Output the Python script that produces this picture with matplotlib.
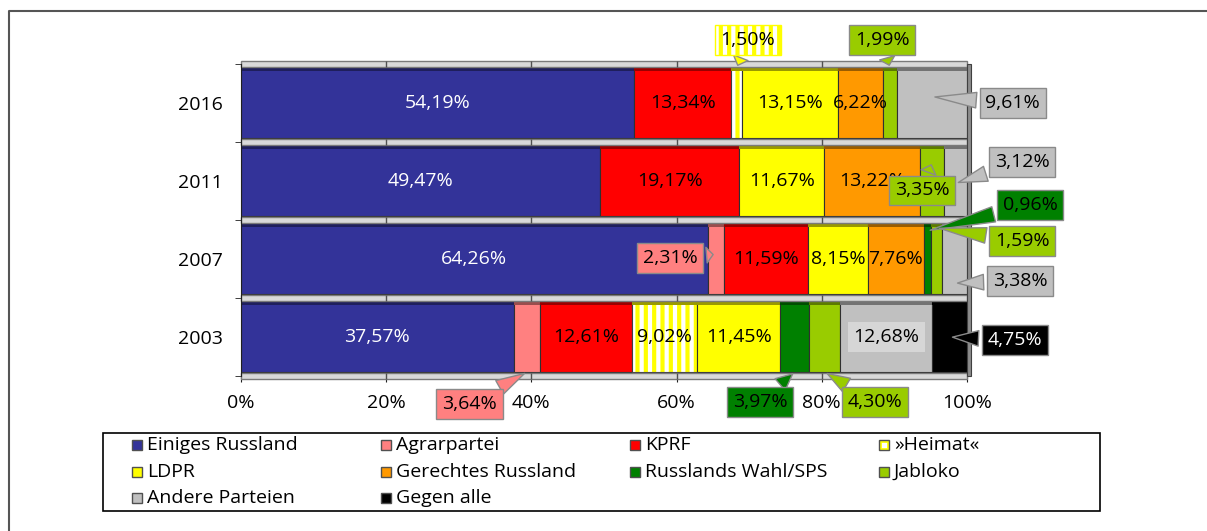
import numpy as np
import matplotlib
matplotlib.use('Agg')
import matplotlib.pyplot as plt
from matplotlib.patches import Rectangle
from matplotlib.lines import Line2D
from matplotlib.colors import to_rgb

plt.rcParams['font.family'] = ['Open Sans', 'DejaVu Sans']
plt.rcParams['hatch.linewidth'] = 3.0

W, H = 1207, 531
FS = 14

years = ['2003', '2007', '2011', '2016']
parties = ['Einiges Russland', 'Agrarpartei', 'KPRF', '»Heimat«', 'LDPR',
           'Gerechtes Russland', 'Russlands Wahl/SPS', 'Jabloko',
           'Andere Parteien', 'Gegen alle']
colors = ['#333399', '#ff8080', '#ff0000', '#ffff00', '#ffff00',
          '#ff9900', '#008000', '#99cc00', '#c0c0c0', '#000000']

# shares per year (2003, 2007, 2011, 2016)
einiges = [37.57, 64.26, 49.47, 54.19]
agrar = [3.64, 2.31, 0, 0]
kprf = [12.61, 11.59, 19.17, 13.34]
heimat = [9.02, 0, 0, 1.50]
ldpr = [11.45, 8.15, 11.67, 13.15]
gerechtes = [0, 7.76, 13.22, 6.22]
sps = [3.97, 0.96, 0, 0]
jabloko = [4.30, 1.59, 3.35, 1.99]
andere = [12.68, 3.38, 3.12, 9.61]
gegen = [4.75, 0, 0, 0]
series = [einiges, agrar, kprf, heimat, ldpr, gerechtes, sps, jabloko, andere, gegen]

# callouts: (party, year index) -> (text x, text y, where the pointer hits)
callouts = {
    (3, 3): (69.8, 3.81, 'top'),
    (7, 3): (88.3, 3.81, 'top'),
    (8, 3): (106.3, 3.0, 0.08),
    (8, 2): (107.6, 2.24, -0.03),
    (7, 2): (93.8, 1.88, 0.24),
    (6, 1): (108.7, 1.69, 0.36),
    (7, 1): (107.6, 1.23, 0.40),
    (8, 1): (107.3, 0.72, -0.31),
    (1, 1): (59.1, 1.01, 0.06),
    (1, 0): (31.5, -0.86, 'bottom'),
    (6, 0): (71.5, -0.83, 'bottom'),
    (7, 0): (87.3, -0.83, 'bottom'),
    (9, 0): (106.6, -0.04, 0.0),
}


def fx(px):
    return px / W


def fy(py):
    return 1 - py / H


def darker(c, f=0.6):
    r, g, b = to_rgb(c)
    return (r * f, g * f, b * f)


fig = plt.figure(figsize=(W / 100, H / 100), dpi=100)
ax = fig.add_axes([fx(241), fy(376), (967 - 241) / W, (376 - 64) / H])
ax.set_xlim(0, 100)
ax.set_ylim(-0.5, 3.5)

y = np.arange(len(years))
bh = 0.9
left = np.zeros(len(years))
for i, (name, vals, col) in enumerate(zip(parties, series, colors)):
    vals = np.array(vals, dtype=float)
    m = vals > 0
    if name == '»Heimat«':
        ax.barh(y[m], vals[m], left=left[m], height=bh, color='white',
                edgecolor=col, hatch='||', lw=0, zorder=2)
        ax.barh(y[m], vals[m], left=left[m], height=bh, fill=False,
                edgecolor='#404040', lw=0.8, zorder=2)
    else:
        ax.barh(y[m], vals[m], left=left[m], height=bh, color=col,
                edgecolor='#303030', lw=0.8, zorder=2)
    # darker top face for the 3d look
    ax.barh(y[m] + bh / 2 - 0.02, vals[m], left=left[m], height=0.04,
            color=darker(col), lw=0, zorder=2)

    for j in range(len(years)):
        v = vals[j]
        if v <= 0:
            continue
        cx = left[j] + v / 2
        txt = f'{v:.2f}%'.replace('.', ',')
        if (i, j) in callouts:
            tx, ty, where = callouts[(i, j)]
            if where == 'top':
                ty0 = y[j] + bh / 2
            elif where == 'bottom':
                ty0 = y[j] - bh / 2
            else:
                ty0 = y[j] + where
            tcol = 'white' if col == '#000000' else 'black'
            if name == '»Heimat«':
                box = dict(boxstyle='square,pad=0.3', fc='white', ec=col, hatch='||', lw=1)
            else:
                box = dict(boxstyle='square,pad=0.3', fc=col, ec='#8a8a8a', lw=1)
            ax.annotate(txt, xy=(cx, ty0), xytext=(tx, ty), ha='center', va='center',
                        fontsize=FS, color=tcol, bbox=box, annotation_clip=False,
                        arrowprops=dict(arrowstyle='wedge,tail_width=0.8,shrink_factor=0.5',
                                        fc=col, ec='#8a8a8a', lw=1),
                        zorder=6)
        else:
            tcol = 'white' if i == 0 else 'black'
            kw = {}
            if name == 'Andere Parteien':
                kw['bbox'] = dict(boxstyle='square,pad=0.3', fc='#d6d6d6', ec='none')
            ax.text(cx, y[j], txt, ha='center', va='center', fontsize=FS,
                    color=tcol, zorder=5, **kw)
    left += vals

# gray floor strips at category borders
for b in np.arange(-0.5, len(years), 1.0):
    ax.add_patch(Rectangle((0, b - 0.035), 100, 0.07, fc='#d9d9d9', ec='#7a7a7a',
                           lw=1, zorder=3, clip_on=False))
    ax.vlines(np.arange(20, 100, 20), b - 0.035, b + 0.035, color='#505050',
              lw=1, zorder=4, clip_on=False)
# right side wall
ax.add_patch(Rectangle((100, -0.5), 0.6, 4.0, fc='#8c8c8c', ec='#404040', lw=0.8,
                       zorder=3, clip_on=False))

for s in ['top', 'right', 'bottom']:
    ax.spines[s].set_visible(False)
ax.spines['left'].set_color('#202020')
ax.spines['left'].set_zorder(4)

ax.set_yticks(y)
ax.set_yticklabels(years, fontsize=FS)
ax.set_yticks(np.arange(-0.5, len(years), 1.0), minor=True)
ax.tick_params(axis='y', which='major', length=0, pad=13)
ax.tick_params(axis='y', which='minor', length=4, color='#202020')
ax.set_xticks(np.arange(0, 101, 20))
ax.set_xticklabels([f'{t}%' for t in range(0, 101, 20)], fontsize=FS)
ax.tick_params(axis='x', length=4, pad=9, color='#202020')

# legend
fig.add_artist(Rectangle((fx(103), fy(511)), (1100 - 103) / W, (511 - 433) / H,
                         transform=fig.transFigure, fill=False, ec='black', lw=1.2))
col_x = [132, 381, 630, 879]
row_y = [445, 472, 498]
for k, (name, col) in enumerate(zip(parties, colors)):
    px = col_x[k % 4]
    py = row_y[k // 4]
    if name == '»Heimat«':
        fig.add_artist(Rectangle((fx(px + 1), fy(py + 4)), 8 / W, 8 / H,
                                 transform=fig.transFigure, fc='white', ec=col, lw=2))
        fig.add_artist(Rectangle((fx(px), fy(py + 5)), 10 / W, 10 / H,
                                 transform=fig.transFigure, fill=False, ec='#505050', lw=1))
    else:
        fig.add_artist(Rectangle((fx(px), fy(py + 5)), 10 / W, 10 / H,
                                 transform=fig.transFigure, fc=col, ec='#505050', lw=1))
    fig.text(fx(px + 15), fy(py), name, ha='left', va='center', fontsize=FS)

# outer frame
fig.add_artist(Line2D([fx(9), fx(9), 1], [0, fy(11), fy(11)],
                      transform=fig.transFigure, color='#555555', lw=1.5))

fig.savefig('out.png', dpi=100)
